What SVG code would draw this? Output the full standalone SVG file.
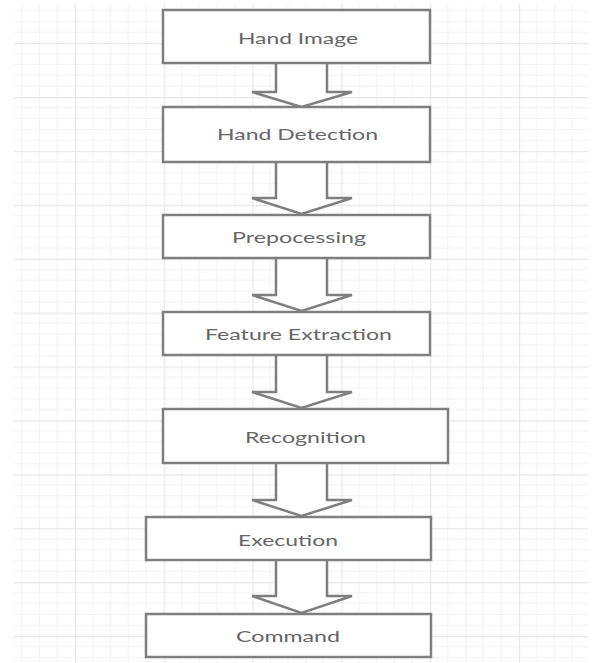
<svg xmlns="http://www.w3.org/2000/svg" width="592" height="663" viewBox="0 0 592 663">
  <style>
    .box { fill: #ffffff; stroke: #7f7f7f; stroke-width: 2.5; }
    .arrow { fill: #ffffff; stroke: #7f7f7f; stroke-width: 2.5; stroke-linejoin: miter; }
    .label { font-family: Lato, "Open Sans", sans-serif; font-size: 15px; fill: #666666; }
    .minor { stroke: #f4f4f4; stroke-width: 1; }
    .major { stroke: #e8e8e8; stroke-width: 1.2; }
  </style>
  <defs>
    <pattern id="grid" patternUnits="userSpaceOnUse" x="-13.9" y="-10.8" width="88.8" height="53.9">
      <rect width="88.8" height="53.9" fill="#ffffff"/>
      <g class="minor">
        <line x1="17.76" y1="0" x2="17.76" y2="53.9"/>
        <line x1="35.52" y1="0" x2="35.52" y2="53.9"/>
        <line x1="53.28" y1="0" x2="53.28" y2="53.9"/>
        <line x1="71.04" y1="0" x2="71.04" y2="53.9"/>
        <line x1="0" y1="10.78" x2="88.8" y2="10.78"/>
        <line x1="0" y1="21.56" x2="88.8" y2="21.56"/>
        <line x1="0" y1="32.34" x2="88.8" y2="32.34"/>
        <line x1="0" y1="43.12" x2="88.8" y2="43.12"/>
      </g>
      <g class="major">
        <line x1="0.6" y1="0" x2="0.6" y2="53.9"/>
        <line x1="0" y1="0.6" x2="88.8" y2="0.6"/>
      </g>
    </pattern>
  </defs>
  <rect width="592" height="663" fill="#ffffff"/>
  <rect x="14" y="4" width="574" height="659" fill="url(#grid)"/>

  <g id="connectors">
    <path class="arrow" d="M276,63 L276,92 L252,92 L301.5,107 L352,92 L327,92 L327,63"/>
    <path class="arrow" d="M276,162 L276,198 L252,198 L301.5,214 L352,198 L327,198 L327,162"/>
    <path class="arrow" d="M276,258 L276,295 L252,295 L301.5,311 L352,295 L327,295 L327,258"/>
    <path class="arrow" d="M276,355 L276,392 L252,392 L301.5,408 L352,392 L327,392 L327,355"/>
    <path class="arrow" d="M276,463 L276,500 L252,500 L301.5,516 L352,500 L327,500 L327,463"/>
    <path class="arrow" d="M276,560 L276,596 L252,596 L301.5,613 L352,596 L327,596 L327,560"/>
  </g>

  <g id="hand-image">
    <rect class="box" x="163" y="10" width="267" height="53"/>
    <text class="label" x="238" y="44" textLength="120" lengthAdjust="spacingAndGlyphs">Hand Image</text>
  </g>
  <g id="hand-detection">
    <rect class="box" x="163" y="107" width="267" height="55"/>
    <text class="label" x="217" y="140" textLength="161" lengthAdjust="spacingAndGlyphs">Hand Detection</text>
  </g>
  <g id="prepocessing">
    <rect class="box" x="163" y="215" width="267" height="43"/>
    <text class="label" x="232" y="243" textLength="134" lengthAdjust="spacingAndGlyphs">Prepocessing</text>
  </g>
  <g id="feature-extraction">
    <rect class="box" x="163" y="312" width="267" height="43"/>
    <text class="label" x="205" y="340" textLength="187" lengthAdjust="spacingAndGlyphs">Feature Extraction</text>
  </g>
  <g id="recognition">
    <rect class="box" x="163" y="409" width="285" height="54"/>
    <text class="label" x="245" y="443" textLength="121" lengthAdjust="spacingAndGlyphs">Recognition</text>
  </g>
  <g id="execution">
    <rect class="box" x="146" y="517" width="285" height="43"/>
    <text class="label" x="238" y="546" textLength="100" lengthAdjust="spacingAndGlyphs">Execution</text>
  </g>
  <g id="command">
    <rect class="box" x="146" y="614" width="285" height="43"/>
    <text class="label" x="236" y="642" textLength="104" lengthAdjust="spacingAndGlyphs">Command</text>
  </g>
</svg>
